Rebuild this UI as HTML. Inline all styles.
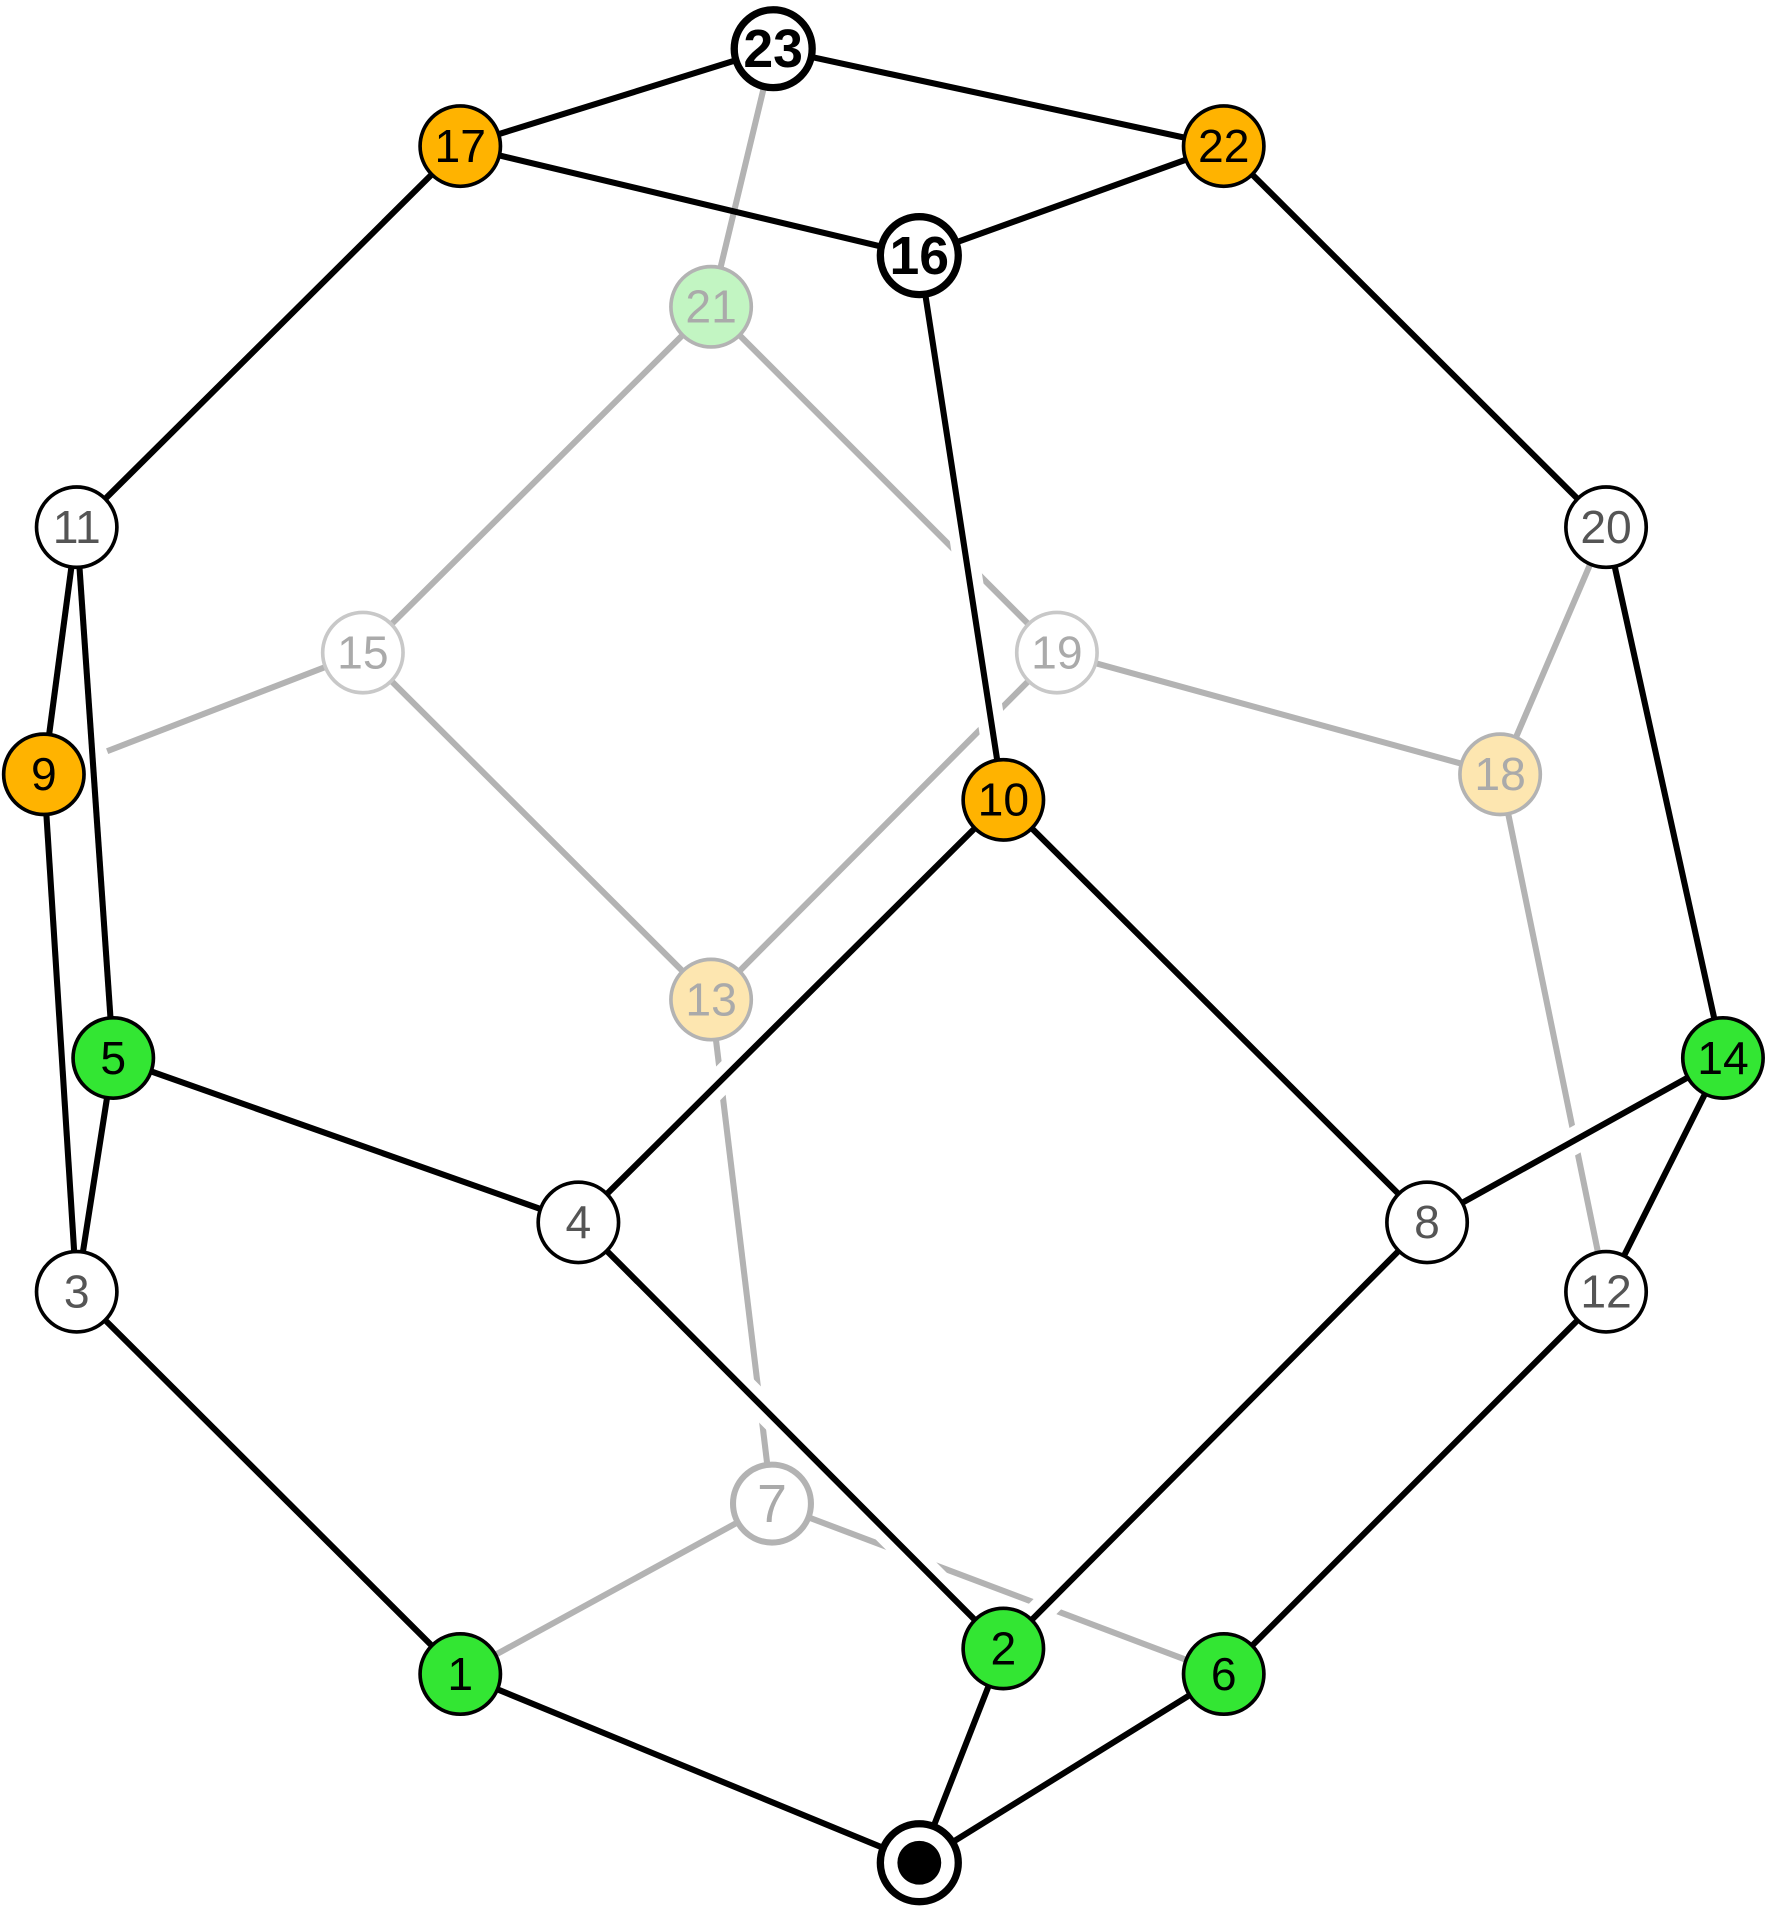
<!DOCTYPE html>
<html><head><meta charset="utf-8"><style>html,body{margin:0;padding:0;background:#fff}svg{display:block}</style></head><body>
<svg width="1768" height="1909" viewBox="0 0 1452 1568" preserveAspectRatio="none" xmlns="http://www.w3.org/2000/svg">
<g stroke="#b3b3b3" stroke-width="5" fill="none">
<line x1="635" y1="40" x2="584" y2="252"/>
<line x1="584" y1="252" x2="298" y2="536"/>
<line x1="584" y1="252" x2="868" y2="536"/>
<line x1="298" y1="536" x2="88" y2="617"/>
<line x1="298" y1="536" x2="584" y2="821"/>
<line x1="868" y1="536" x2="584" y2="821"/>
<line x1="868" y1="536" x2="1232" y2="636"/>
<line x1="1319" y1="433" x2="1232" y2="636"/>
<line x1="1232" y1="636" x2="1319" y2="1061"/>
<line x1="584" y1="821" x2="634" y2="1235"/>
<line x1="634" y1="1235" x2="378" y2="1375"/>
<line x1="634" y1="1235" x2="1005" y2="1375"/>
</g>
<g stroke="#fff" stroke-width="22" fill="none">
<line x1="755" y1="210" x2="824" y2="657"/>
<line x1="824" y1="657" x2="475" y2="1004"/>
<line x1="475" y1="1004" x2="824" y2="1354"/>
<line x1="1172" y1="1004" x2="1415" y2="869"/>
<line x1="824" y1="1354" x2="1172" y2="1004"/>
</g>
<g stroke="#000" stroke-width="5" fill="none">
<line x1="635" y1="40" x2="378" y2="120"/>
<line x1="635" y1="40" x2="1005" y2="120"/>
<line x1="378" y1="120" x2="755" y2="210"/>
<line x1="755" y1="210" x2="1005" y2="120"/>
<line x1="378" y1="120" x2="63" y2="433"/>
<line x1="1005" y1="120" x2="1319" y2="433"/>
<line x1="755" y1="210" x2="824" y2="657"/>
<line x1="63" y1="433" x2="36" y2="636"/>
<line x1="63" y1="433" x2="93" y2="869"/>
<line x1="36" y1="636" x2="63" y2="1061"/>
<line x1="93" y1="869" x2="63" y2="1061"/>
<line x1="93" y1="869" x2="475" y2="1004"/>
<line x1="824" y1="657" x2="475" y2="1004"/>
<line x1="824" y1="657" x2="1172" y2="1004"/>
<line x1="475" y1="1004" x2="824" y2="1354"/>
<line x1="1172" y1="1004" x2="824" y2="1354"/>
<line x1="1172" y1="1004" x2="1415" y2="869"/>
<line x1="1319" y1="433" x2="1415" y2="869"/>
<line x1="1415" y1="869" x2="1319" y2="1061"/>
<line x1="1319" y1="1061" x2="1005" y2="1375"/>
<line x1="63" y1="1061" x2="378" y2="1375"/>
<line x1="378" y1="1375" x2="755" y2="1530"/>
<line x1="824" y1="1354" x2="755" y2="1530"/>
<line x1="1005" y1="1375" x2="755" y2="1530"/>
</g>
<g font-family="Liberation Sans, sans-serif" font-size="38" text-anchor="middle">
<g stroke-width="3">
<circle cx="584" cy="252" r="33" fill="#c2f5c2" stroke="#b3b3b3"/>
<circle cx="298" cy="536" r="33" fill="#fff" stroke="#c8c8c8"/>
<circle cx="868" cy="536" r="33" fill="#fff" stroke="#c8c8c8"/>
<circle cx="1232" cy="636" r="33" fill="#fde6b0" stroke="#b3b3b3"/>
<circle cx="584" cy="821" r="33" fill="#fde6b0" stroke="#b3b3b3"/>
<circle cx="634" cy="1235" r="32" fill="#fff" stroke="#b3b3b3" stroke-width="5"/>
<circle cx="378" cy="120" r="33" fill="#ffb300" stroke="#000"/>
<circle cx="1005" cy="120" r="33" fill="#ffb300" stroke="#000"/>
<circle cx="36" cy="636" r="33" fill="#ffb300" stroke="#000"/>
<circle cx="824" cy="657" r="33" fill="#ffb300" stroke="#000"/>
<circle cx="63" cy="433" r="33" fill="#fff" stroke="#000"/>
<circle cx="1319" cy="433" r="33" fill="#fff" stroke="#000"/>
<circle cx="475" cy="1004" r="33" fill="#fff" stroke="#000"/>
<circle cx="1172" cy="1004" r="33" fill="#fff" stroke="#000"/>
<circle cx="63" cy="1061" r="33" fill="#fff" stroke="#000"/>
<circle cx="1319" cy="1061" r="33" fill="#fff" stroke="#000"/>
<circle cx="93" cy="869" r="33" fill="#33e633" stroke="#000"/>
<circle cx="1415" cy="869" r="33" fill="#33e633" stroke="#000"/>
<circle cx="378" cy="1375" r="33" fill="#33e633" stroke="#000"/>
<circle cx="824" cy="1354" r="33" fill="#33e633" stroke="#000"/>
<circle cx="1005" cy="1375" r="33" fill="#33e633" stroke="#000"/>
<circle cx="635" cy="40" r="32" fill="#fff" stroke="#000" stroke-width="6"/>
<circle cx="755" cy="210" r="32" fill="#fff" stroke="#000" stroke-width="6"/>
<circle cx="755" cy="1530" r="32" fill="#fff" stroke="#000" stroke-width="6"/>
<circle cx="755" cy="1530" r="18" fill="#000" stroke="none"/>
</g>
<g fill="#aaa">
<text x="584" y="265">21</text><text x="298" y="549">15</text><text x="868" y="549">19</text>
<text x="1232" y="649">18</text><text x="584" y="834">13</text><text x="634" y="1250" font-size="44">7</text>
</g>
<g fill="#000">
<text x="378" y="133">17</text><text x="1005" y="133">22</text><text x="36" y="649">9</text><text x="824" y="670">10</text>
<text x="93" y="882">5</text><text x="1415" y="882">14</text><text x="378" y="1388">1</text><text x="824" y="1367">2</text><text x="1005" y="1388">6</text>
</g>
<g fill="#555">
<text x="63" y="446">11</text><text x="1319" y="446">20</text><text x="475" y="1017">4</text><text x="1172" y="1017">8</text>
<text x="63" y="1074">3</text><text x="1319" y="1074">12</text>
</g>
<g fill="#000" font-weight="bold" font-size="44">
<text x="635" y="55">23</text><text x="755" y="225">16</text>
</g>
</g>
</svg>
</body></html>
